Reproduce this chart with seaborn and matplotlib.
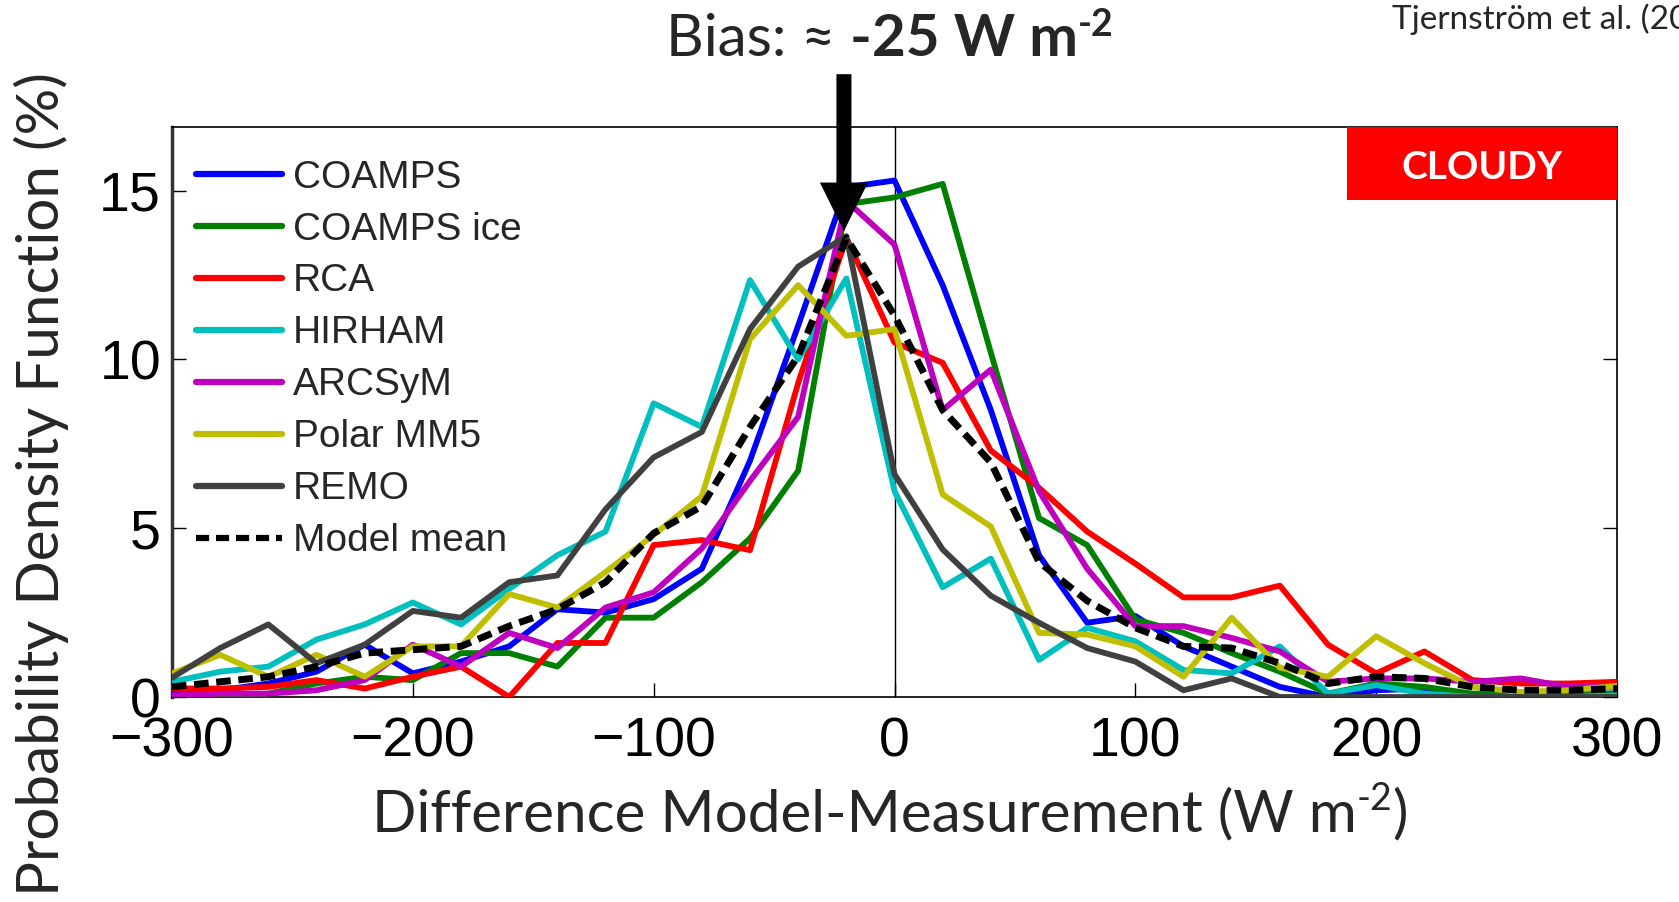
import matplotlib
matplotlib.use("Agg")
import matplotlib.pyplot as plt
import seaborn as sns
import pandas as pd
from matplotlib.patches import Rectangle

# ---------------- data ----------------
diff = [-300, -280, -260, -240, -220, -200, -180, -160, -140, -120, -100, -80, -60, -40, -20,
        0, 20, 40, 60, 80, 100, 120, 140, 160, 180, 200, 220, 240, 260, 280, 300]

coamps = [0.1, 0.2, 0.4, 0.75, 1.55, 0.7, 1.05, 1.5, 2.6, 2.5, 2.9, 3.8, 7.0, 11.0, 15.1,
          15.3, 12.2, 8.5, 4.2, 2.2, 2.4, 1.5, 0.9, 0.3, 0.0, 0.2, 0.25, 0.05, 0.05, 0.1, 0.1]
coamps_ice = [0.0, 0.0, 0.1, 0.4, 0.6, 0.5, 1.3, 1.3, 0.9, 2.35, 2.35, 3.4, 4.7, 6.7, 14.6,
              14.8, 15.2, 10.2, 5.3, 4.5, 2.3, 1.9, 1.3, 0.75, 0.1, 0.4, 0.3, 0.1, 0.1, 0.1, 0.1]
rca = [0.25, 0.25, 0.3, 0.5, 0.25, 0.6, 0.9, 0.0, 1.6, 1.6, 4.5, 4.65, 4.35, 9.3, 13.6,
       10.5, 9.9, 7.3, 6.2, 4.9, 3.95, 2.95, 2.95, 3.3, 1.55, 0.7, 1.35, 0.5, 0.4, 0.4, 0.45]
hirham = [0.45, 0.75, 0.9, 1.7, 2.15, 2.8, 2.15, 3.2, 4.2, 4.9, 8.7, 8.0, 12.35, 10.0, 12.4,
          6.1, 3.25, 4.1, 1.1, 2.05, 1.65, 0.8, 0.7, 1.5, 0.1, 0.35, 0.1, 0.0, 0.0, 0.0, 0.05]
arcsym = [0.05, 0.1, 0.1, 0.2, 0.5, 1.55, 0.9, 1.9, 1.45, 2.65, 3.1, 4.4, 6.4, 8.3, 14.7,
          13.4, 8.5, 9.7, 6.1, 3.8, 2.1, 2.1, 1.75, 1.35, 0.45, 0.55, 0.55, 0.45, 0.55, 0.3, 0.3]
polar_mm5 = [0.7, 1.25, 0.6, 1.25, 0.6, 1.5, 1.5, 3.05, 2.65, 3.7, 4.8, 5.95, 10.6, 12.2, 10.7,
             10.9, 6.0, 5.05, 1.9, 1.85, 1.5, 0.6, 2.35, 0.87, 0.6, 1.8, 1.0, 0.3, 0.15, 0.2, 0.33]
remo = [0.57, 1.45, 2.15, 1.0, 1.55, 2.55, 2.35, 3.4, 3.6, 5.56, 7.1, 7.85, 10.9, 12.75, 13.65,
        6.6, 4.37, 3.0, 2.2, 1.45, 1.05, 0.2, 0.55, 0.0, 0.0, 0.0, 0.0, 0.0, 0.0, 0.0, 0.0]
model_mean = [0.3, 0.45, 0.6, 0.9, 1.3, 1.4, 1.5, 2.1, 2.6, 3.4, 4.85, 5.65, 8.0, 10.1, 13.6,
              11.3, 8.5, 6.95, 4.0, 2.85, 2.05, 1.5, 1.45, 1.0, 0.4, 0.6, 0.55, 0.3, 0.2, 0.2, 0.25]

model_names = ["COAMPS", "COAMPS ice", "RCA", "HIRHAM", "ARCSyM", "Polar MM5", "REMO", "Model mean"]
model_colors = ["#0000ff", "#008000", "#ff0000", "#00bfbf", "#bf00bf", "#bfbf00", "#404040", "#000000"]
model_values = [coamps, coamps_ice, rca, hirham, arcsym, polar_mm5, remo, model_mean]

xticks = [-300, -200, -100, 0, 100, 200, 300]
xtick_labels = ["\u2212300", "\u2212200", "\u2212100", "0", "100", "200", "300"]
yticks = [0, 5, 10, 15]
ytick_labels = ["0", "5", "10", "15"]
bias_x = -21      # position of the bias arrow (W m-2)

# ---------------- style ----------------
sns.set_style("white")
plt.rcParams["font.family"] = ["Liberation Sans", "DejaVu Sans"]
LATO = ["Lato", "DejaVu Sans"]

W, H = 1679, 902
fig = plt.figure(figsize=(W / 100, H / 100), dpi=100)
ax_l, ax_r, ax_t, ax_b = 172, 1617, 126.5, 697
ax = fig.add_axes([ax_l / W, 1 - ax_b / H, (ax_r - ax_l) / W, (ax_b - ax_t) / H])

for name, color, vals in zip(model_names, model_colors, model_values):
    df = pd.DataFrame({"diff": diff, "pdf": vals})
    if name == "Model mean":
        sns.lineplot(data=df, x="diff", y="pdf", ax=ax, color=color, linewidth=5,
                     linestyle="--", label=name, errorbar=None, zorder=5)
        ax.get_lines()[-1].set_dashes([2.1, 1.1])
    else:
        sns.lineplot(data=df, x="diff", y="pdf", ax=ax, color=color, linewidth=4.2,
                     label=name, errorbar=None, zorder=3)

ax.axvline(0, color="black", linewidth=1.0, zorder=2)

ax.set_xlim(-300, 300)
ax.set_ylim(0, 16.9)
ax.set_xticks(xticks)
ax.set_yticks(yticks)
ax.set_xticklabels(xtick_labels)
ax.set_yticklabels(ytick_labels)
ax.set_xlabel("")
ax.set_ylabel("")
ax.tick_params(axis="both", direction="in", length=10, width=1.0, labelsize=40, colors="black")
ax.tick_params(axis="x", pad=14, top=False, bottom=True)
ax.tick_params(axis="y", pad=8, left=True, right=True)
for side, sp in ax.spines.items():
    sp.set_color("black")
    sp.set_linewidth(1.2)
ax.spines["left"].set_linewidth(2.5)
ax.spines["left"].set_color("#333333")

leg = ax.legend(loc="upper left", bbox_to_anchor=(0.0166, 0.942), frameon=False,
                fontsize=28, handlelength=2.2, handletextpad=0.3, labelspacing=0.41,
                borderpad=0, borderaxespad=0)
for lh in leg.get_lines():
    lh.set_linewidth(4.5)

# CLOUDY box
ax.add_patch(Rectangle((0.813, 0.872), 0.187, 0.128, transform=ax.transAxes,
                       facecolor="#ff0000", edgecolor="none", zorder=6, clip_on=False))
ax.text(0.9065, 0.928, "CLOUDY", transform=ax.transAxes, ha="center", va="center",
        color="white", fontsize=28, fontweight="bold", family=LATO, zorder=7)

# bias arrow
ax.annotate("", xy=(bias_x, 13.8), xytext=(bias_x, 18.45), xycoords="data", textcoords="data",
            annotation_clip=False,
            arrowprops=dict(facecolor="black", edgecolor="black", linewidth=0,
                            width=10.8, headwidth=34.6, headlength=35, shrink=0))

# y label
fig.text(41 / W, 1 - 484 / H, "Probability Density Function (%)", rotation=90,
         ha="center", va="center", fontsize=42, family=LATO)

# citation (clipped at the figure edge as in the reference)
fig.text(1392 / W, 1 - 29 / H, "Tjernström et al. (2005)", ha="left", va="baseline",
         fontsize=24, family=LATO)

fig.canvas.draw()
renderer = fig.canvas.get_renderer()


def pieces(parts, center_x_px, base_y_px):
    """Place text pieces [(text, size, weight, raise_px)] side by side, centred."""
    objs = []
    for txt, size, weight, rise in parts:
        t = fig.text(0, 1 - (base_y_px - rise) / H, txt, ha="left", va="baseline",
                     fontsize=size, fontweight=weight, family=LATO)
        objs.append(t)
    widths = [t.get_window_extent(renderer).width for t in objs]
    total = sum(widths)
    x = center_x_px - total / 2
    for t, w in zip(objs, widths):
        t.set_x(x / W)
        x += w


# x label: "Difference Model-Measurement (W m-2)"
pieces([("Difference Model-Measurement (W m", 42, "normal", 0),
        ("-2", 27, "normal", 21),
        (")", 42, "normal", 0)], 890, 831)

# title: "Bias: ≈ -25 W m-2"
pieces([("Bias: \u2248 ", 42, "normal", 0),
        ("-25 W m", 42, "bold", 0),
        ("-2", 27, "bold", 20)], 890, 56)

fig.savefig("out.png", dpi=100)
